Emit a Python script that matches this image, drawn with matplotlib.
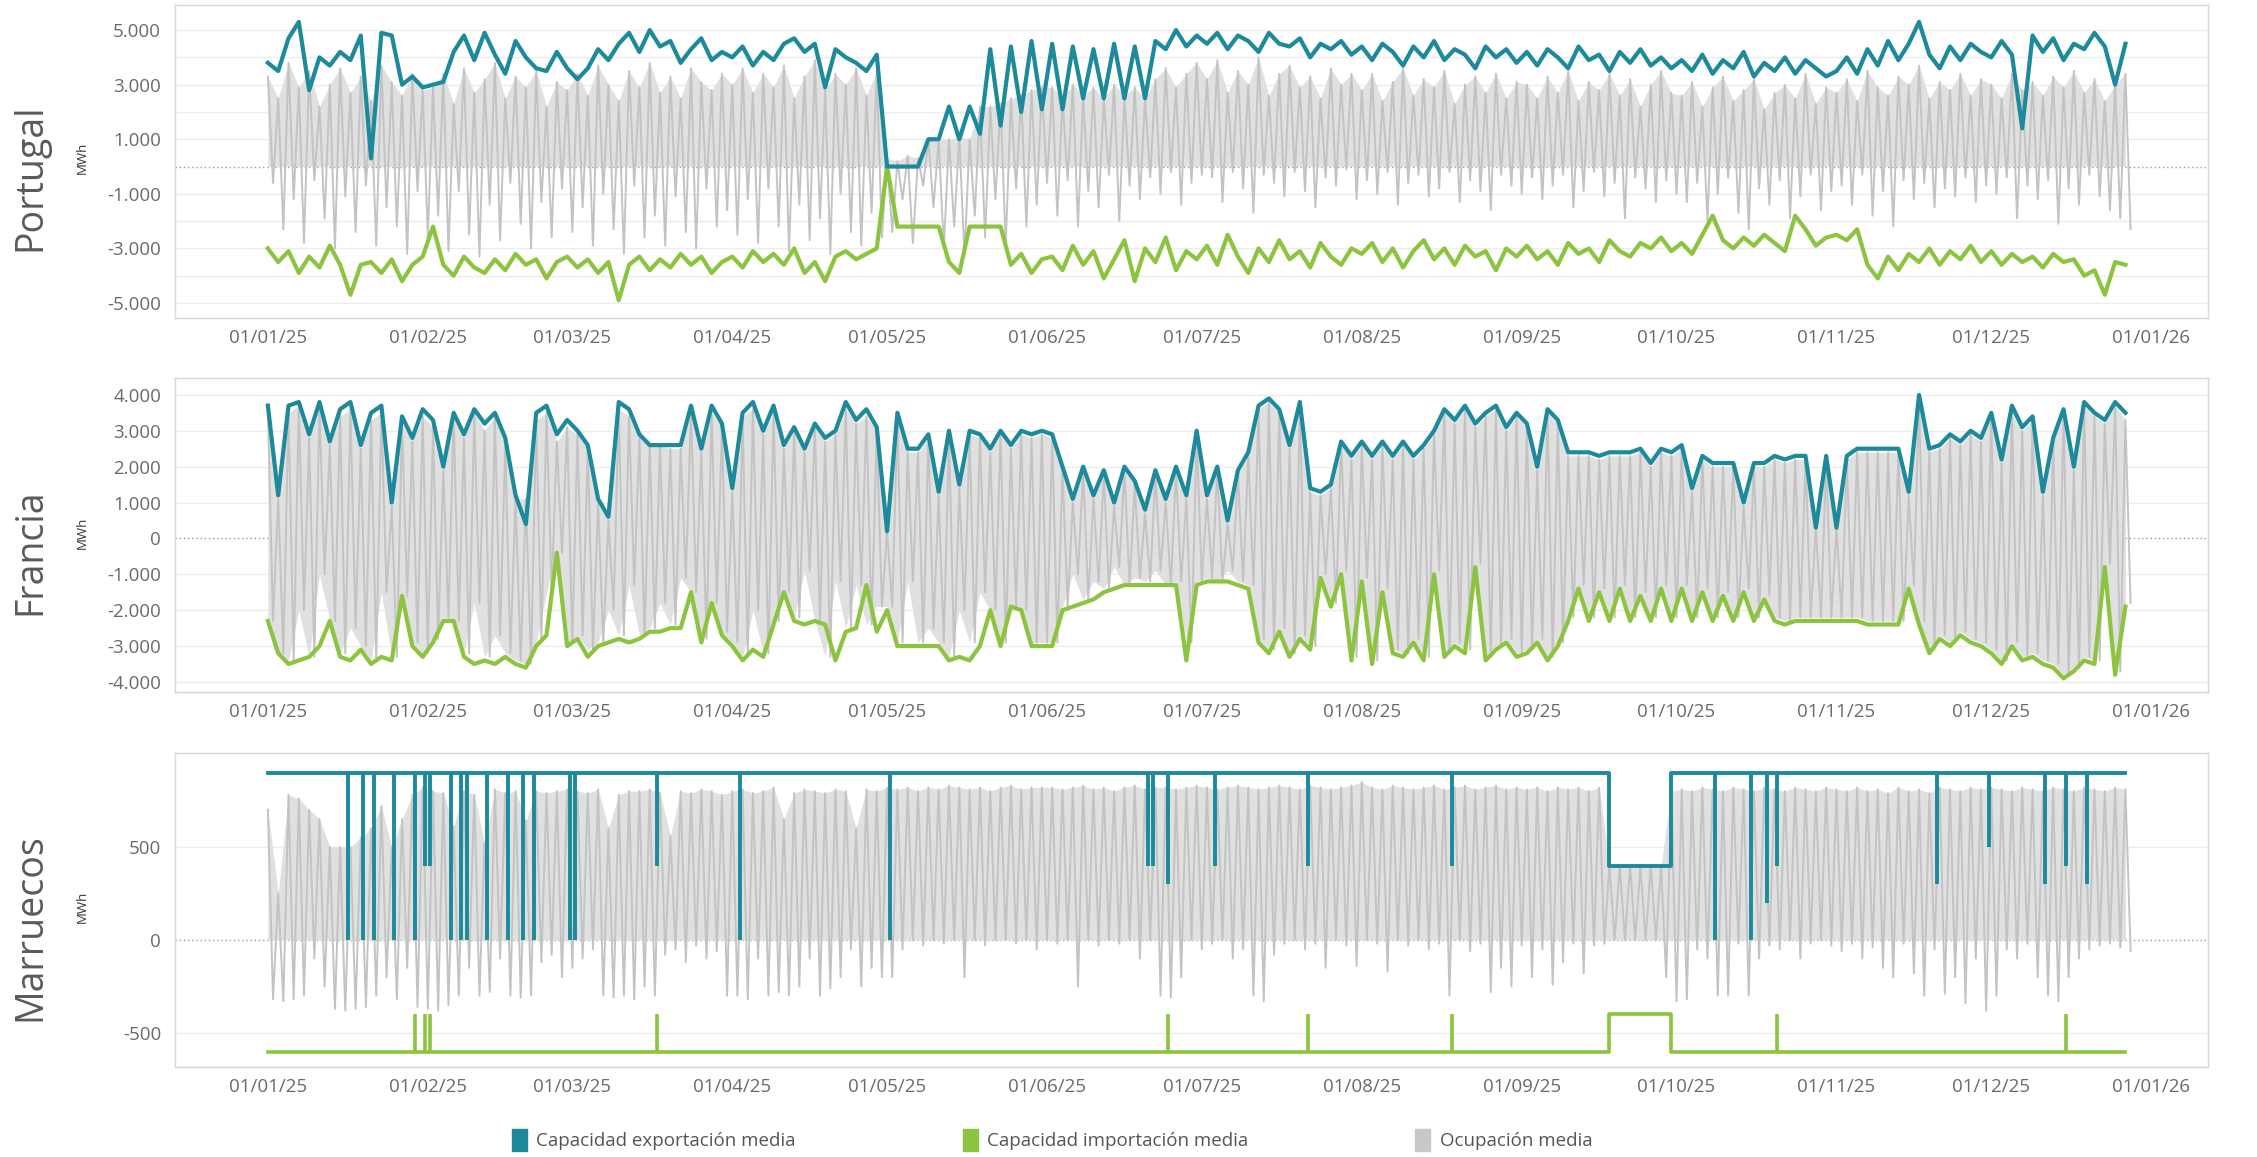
import numpy as np
import matplotlib.pyplot as plt
import matplotlib.dates as mdates
from matplotlib.patches import Patch
from matplotlib.ticker import FixedLocator, FuncFormatter

plt.rcParams['font.family'] = ['Open Sans', 'DejaVu Sans']

TEAL = '#1c8a9b'
GREEN = '#8cc43f'
GREY = '#c3c3c3'
GREY_FILL = '#e0e0e0'

# readings every 2 days from 01/01/25 (one line per month)
START = np.datetime64('2025-01-01T00', 'h')
STEP_H = 48

# ---- Portugal ----
pt_exp = [
    3800, 3500, 4700, 5300, 2800, 4000, 3700, 4200, 3900, 4800, 300, 4900, 4800, 3000, 3300, 2900,
    3000, 3100, 4200, 4800, 3900, 4900, 4100, 3400, 4600, 4000, 3600, 3500, 4200, 3600,
    3200, 3600, 4300, 3900, 4500, 4900, 4200, 5000, 4400, 4600, 3800, 4300, 4700, 3900, 4200,
    4000, 4400, 3700, 4200, 3900, 4500, 4700, 4200, 4500, 2900, 4300, 4000, 3800, 3500, 4100,
    0, 0, 0, 0, 1000, 1000, 2200, 1000, 2200, 1200, 4300, 1500, 4400, 2000, 4600, 2100,
    4500, 2100, 4400, 2500, 4300, 2500, 4500, 2500, 4400, 2500, 4600, 4300, 5000, 4400, 4800,
    4500, 4900, 4300, 4800, 4600, 4200, 4900, 4500, 4400, 4700, 4000, 4500, 4300, 4600, 4100,
    4400, 3900, 4500, 4200, 3700, 4400, 4000, 4600, 3900, 4300, 4100, 3600, 4400, 4000, 4300, 3800,
    4200, 3700, 4300, 4000, 3600, 4400, 3900, 4100, 3500, 4200, 3800, 4300, 3700, 4000, 3600,
    3900, 3500, 4100, 3400, 3900, 3600, 4200, 3300, 3800, 3500, 4000, 3400, 3900, 3600, 3300,
    3500, 4000, 3400, 4300, 3700, 4600, 3900, 4500, 5300, 4100, 3600, 4400, 3900, 4500, 4200,
    4000, 4600, 4100, 1400, 4800, 4200, 4700, 3900, 4500, 4300, 4900, 4400, 3000, 4500,
]
pt_imp = [
    -3000, -3500, -3100, -3900, -3300, -3700, -2900, -3600, -4700, -3600, -3500, -3900, -3400, -4200, -3600, -3300,
    -2200, -3600, -4000, -3300, -3700, -3900, -3400, -3800, -3200, -3600, -3400, -4100, -3500, -3300,
    -3700, -3400, -3900, -3500, -4900, -3600, -3300, -3800, -3400, -3700, -3200, -3600, -3300, -3900, -3500,
    -3300, -3700, -3100, -3500, -3200, -3600, -3000, -3900, -3500, -4200, -3300, -3100, -3400, -3200, -3000,
    0, -2200, -2200, -2200, -2200, -2200, -3500, -3900, -2200, -2200, -2200, -2200, -3600, -3200, -3900, -3400,
    -3300, -3800, -2900, -3600, -3100, -4100, -3400, -2700, -4200, -3000, -3500, -2600, -3800, -3100, -3400,
    -2900, -3600, -2500, -3300, -3900, -3000, -3500, -2700, -3400, -3100, -3700, -2800, -3300, -3600, -3000,
    -3200, -2800, -3500, -3000, -3700, -3100, -2700, -3400, -3000, -3600, -2900, -3300, -3100, -3800, -3000, -3300,
    -2900, -3400, -3100, -3600, -2800, -3200, -3000, -3500, -2700, -3100, -3300, -2800, -3000, -2600, -3100,
    -2800, -3200, -2500, -1800, -2700, -3000, -2600, -2900, -2500, -2800, -3100, -1800, -2300, -2900, -2600,
    -2500, -2700, -2300, -3600, -4100, -3300, -3800, -3200, -3500, -3000, -3600, -3100, -3400, -2900, -3500,
    -3100, -3600, -3200, -3500, -3300, -3700, -3200, -3500, -3400, -4000, -3800, -4700, -3500, -3600,
]
pt_occ_hi = [
    3300, 2500, 3800, 2900, 3500, 2200, 3000, 3600, 2700, 3300, 2400, 3700, 3100, 2600, 3400, 2800,
    2900, 3400, 2300, 3600, 2700, 3200, 3800, 2500, 3300, 2900, 3500, 2200, 3100, 2800,
    3400, 2600, 3700, 3000, 2400, 3500, 2900, 3800, 2700, 3300, 2500, 3600, 3100, 2800, 3400,
    3000, 3600, 2700, 3400, 2900, 3700, 2500, 3300, 3900, 2800, 3400, 3000, 3600, 2600, 3500,
    300, 200, 400, 300, 1000, 1000, 1000, 1100, 1000, 2200, 2200, 2300, 2500, 2600, 2800, 2900,
    2900, 2500, 3000, 2600, 2900, 2500, 3000, 2600, 2900, 2500, 3200, 3600, 2900, 3400, 3800,
    3200, 3900, 2700, 3500, 3000, 4000, 2600, 3400, 3700, 2900, 3300, 2500, 3600, 3000, 3400,
    2800, 3400, 2400, 3100, 3600, 2600, 3200, 2900, 3500, 2300, 3000, 3300, 2700, 3400, 2500, 3100,
    3000, 2500, 3300, 2700, 3500, 2400, 3100, 2800, 3400, 2600, 3200, 2200, 3000, 3500, 2700,
    2600, 3100, 2200, 2900, 3300, 2400, 2800, 3200, 2100, 2700, 3000, 2500, 3400, 2300, 2900,
    2700, 3200, 2400, 3500, 2900, 2600, 3300, 3000, 3700, 2500, 3100, 2800, 3400, 2600, 3200,
    3000, 2500, 3400, 2800, 3100, 2600, 3300, 2900, 3500, 2700, 3200, 2400, 3000, 3400,
]
pt_occ_lo = [
    -600, -2300, -1200, -2800, -500, -1900, -3000, -1100, -2400, -700, -2900, -1500, -2200, -3200, -900, -2600,
    -1800, -3100, -900, -2500, -3300, -1400, -2700, -600, -2100, -3000, -1300, -2600, -800, -2400,
    -1500, -2900, -1000, -2300, -3200, -700, -2600, -1800, -2900, -1100, -2400, -3000, -800, -2200, -1600,
    -2500, -1200, -2800, -800, -2200, -3100, -1400, -2700, -1900, -3200, -1000, -2400, -2900, -1700, -2600,
    -2400, -1200, -2800, -700, -1500, -3000, -2200, -3300, -1800, -2600, -1200, -2900, -800, -2200, -1400, -600,
    -1800, -500, -2200, -900, -1500, -300, -2000, -700, -1200, -400, -1000, -200, -1400, -600, -300,
    -400, -1300, -200, -800, -1700, -300, -600, -1100, -200, -900, -1500, -400, -700, -100, -1200,
    -500, -1000, -200, -1400, -600, -300, -1100, -800, -200, -1300, -500, -900, -1600, -300, -700, -1000,
    -400, -1200, -700, -300, -1500, -900, -200, -1100, -600, -1900, -400, -800, -1300, -500, -1000,
    -1300, -600, -2000, -1000, -400, -1700, -2300, -800, -1400, -500, -1900, -1100, -300, -1600, -900,
    -700, -1400, -300, -1800, -900, -2200, -500, -1200, -600, -1500, -800, -1100, -400, -1300, -700,
    -1000, -400, -1900, -700, -1200, -500, -2100, -800, -1400, -300, -1100, -1600, -1900, -2300,
]

# ---- Francia ----
fr_exp = [
    3700, 1200, 3700, 3800, 2900, 3800, 2700, 3600, 3800, 2600, 3500, 3700, 1000, 3400, 2800, 3600,
    3300, 2000, 3500, 2900, 3600, 3200, 3500, 2800, 1200, 400, 3500, 3700, 2900, 3300,
    3000, 2600, 1100, 600, 3800, 3600, 2900, 2600, 2600, 2600, 2600, 3700, 2500, 3700, 3200,
    1400, 3500, 3800, 3000, 3700, 2600, 3100, 2500, 3200, 2800, 3000, 3800, 3300, 3600, 3100,
    200, 3500, 2500, 2500, 2900, 1300, 3000, 1500, 3000, 2900, 2500, 3000, 2600, 3000, 2900, 3000,
    2900, 2000, 1100, 2000, 1200, 1900, 1000, 2000, 1600, 800, 1900, 1100, 2000, 1200, 3000,
    1200, 2000, 500, 1900, 2400, 3700, 3900, 3600, 2600, 3800, 1400, 1300, 1500, 2700, 2300,
    2700, 2300, 2700, 2300, 2700, 2300, 2600, 3000, 3600, 3300, 3700, 3200, 3500, 3700, 3100, 3500,
    3200, 2000, 3600, 3300, 2400, 2400, 2400, 2300, 2400, 2400, 2400, 2500, 2100, 2500, 2400,
    2600, 1400, 2300, 2100, 2100, 2100, 1000, 2100, 2100, 2300, 2200, 2300, 2300, 300, 2300,
    300, 2300, 2500, 2500, 2500, 2500, 2500, 1300, 4000, 2500, 2600, 2900, 2700, 3000, 2800,
    3500, 2200, 3700, 3100, 3400, 1300, 2800, 3600, 2000, 3800, 3500, 3300, 3800, 3500,
]
fr_imp = [
    -2300, -3200, -3500, -3400, -3300, -3000, -2300, -3300, -3400, -3100, -3500, -3300, -3400, -1600, -3000, -3300,
    -2900, -2300, -2300, -3300, -3500, -3400, -3500, -3300, -3500, -3600, -3000, -2700, -400, -3000,
    -2800, -3300, -3000, -2900, -2800, -2900, -2800, -2600, -2600, -2500, -2500, -1500, -2900, -1800, -2700,
    -3000, -3400, -3100, -3300, -2400, -1500, -2300, -2400, -2300, -2400, -3400, -2600, -2500, -1300, -2600,
    -2000, -3000, -3000, -3000, -3000, -3000, -3400, -3300, -3400, -3000, -2000, -3000, -1900, -2000, -3000, -3000,
    -3000, -2000, -1900, -1800, -1700, -1500, -1400, -1300, -1300, -1300, -1300, -1300, -1300, -3400, -1300,
    -1200, -1200, -1200, -1300, -1400, -2900, -3200, -2600, -3300, -2800, -3100, -1100, -1900, -1000, -3400,
    -1200, -3500, -1500, -3200, -3300, -2900, -3400, -1000, -3300, -3000, -3200, -800, -3400, -3100, -2900, -3300,
    -3200, -2900, -3400, -3000, -2300, -1400, -2300, -1500, -2300, -1400, -2300, -1600, -2300, -1400, -2300,
    -1400, -2300, -1500, -2300, -1600, -2300, -1500, -2300, -1700, -2300, -2400, -2300, -2300, -2300, -2300,
    -2300, -2300, -2300, -2400, -2400, -2400, -2400, -1400, -2400, -3200, -2800, -3000, -2700, -2900, -3000,
    -3200, -3500, -3000, -3400, -3300, -3500, -3600, -3900, -3700, -3400, -3500, -800, -3800, -1900,
]
fr_occ_hi = [
    3600, 1100, 3500, 3700, 2800, 3600, 2600, 3400, 3600, 2500, 3300, 3500, 900, 3200, 2700, 3400,
    3100, 1900, 3400, 2800, 3500, 3000, 3400, 2600, 1100, 1100, 3300, 3500, 2700, 3100,
    2900, 2500, 1000, 500, 3600, 3400, 2800, 2600, 2600, 2500, 2500, 3500, 2400, 3500, 3100,
    1300, 3400, 3600, 2900, 3500, 2500, 3000, 2400, 3100, 2700, 2900, 3600, 3200, 3400, 3000,
    200, 3400, 2400, 2400, 2800, 1200, 2900, 1400, 2900, 2800, 2400, 2900, 2500, 2900, 2800, 2900,
    2800, 1900, 1000, 1900, 1100, 1800, 900, 1900, 1500, 700, 1800, 1000, 1900, 1100, 2900,
    1100, 1900, 400, 1800, 2300, 3600, 3800, 3500, 2500, 3700, 1300, 1200, 1400, 2600, 2200,
    2600, 2200, 2600, 2200, 2600, 2200, 2500, 2900, 3500, 3200, 3600, 3100, 3400, 3600, 3000, 3400,
    3100, 1900, 3500, 3200, 2300, 2300, 2300, 2200, 2300, 2300, 2300, 2400, 2000, 2400, 2300,
    2500, 1300, 2200, 2000, 2000, 2000, 900, 2000, 2000, 2200, 2100, 2200, 2200, 300, 2200,
    300, 2200, 2400, 2400, 2400, 2400, 2400, 1200, 3900, 2400, 2500, 2800, 2600, 2900, 2700,
    3400, 2100, 3600, 3000, 3300, 1200, 2700, 3500, 1900, 3700, 3400, 3200, 3700, 3300,
]
fr_occ_lo = [
    -2300, -3200, -3400, -2000, -3300, -1000, -2300, -3200, -2500, -3000, -3400, -1500, -3300, -1600, -2900, -3200,
    -2800, -2200, -2300, -3200, -1800, -3300, -2700, -3200, -3400, -3500, -2900, -1500, -400, -2900,
    -2700, -3100, -2900, -2000, -2700, -1300, -2700, -2500, -1800, -2400, -1100, -1500, -2800, -1800, -2600,
    -2900, -3300, -2000, -3200, -2300, -1500, -2200, -900, -2300, -3300, -1200, -2500, -1300, -2400, -1900,
    -1900, -2900, -1200, -2900, -2500, -2900, -3300, -2000, -2900, -1500, -2000, -2900, -1900, -2000, -2900, -2900,
    -2900, -1900, -1000, -1700, -1200, -1400, -800, -1300, -1100, -1200, -900, -1300, -1200, -2900, -1200,
    -1100, -1200, -900, -1200, -1300, -2800, -3100, -2500, -3200, -2700, -3000, -1000, -1800, -900, -3300,
    -1100, -3400, -1400, -3100, -3200, -2800, -3300, -900, -3200, -2900, -3100, -700, -3300, -3000, -2800, -3200,
    -3100, -2800, -3300, -2900, -2200, -1300, -2200, -1400, -2200, -1300, -2200, -1500, -2200, -1300, -2200,
    -1300, -2200, -1400, -2200, -1500, -2200, -1400, -2200, -1600, -2200, -2300, -2200, -2200, -2200, -2200,
    -2200, -2200, -2200, -2300, -2300, -2300, -2300, -1300, -2300, -3100, -2700, -2900, -2600, -2800, -2900,
    -3100, -3400, -2900, -3300, -3200, -3400, -3500, -3800, -3600, -3300, -3400, -700, -3700, -1800,
]

# ---- Marruecos ----
ma_occ_hi = [
    700, 250, 780, 760, 700, 650, 500, 500, 500, 550, 600, 720, 500, 650, 780, 820,
    800, 790, 610, 800, 780, 520, 810, 790, 800, 640, 800, 790, 800, 810,
    800, 790, 810, 600, 780, 800, 800, 810, 790, 560, 800, 790, 810, 800, 780,
    800, 810, 790, 800, 820, 650, 790, 810, 800, 790, 810, 800, 600, 810, 800,
    820, 810, 820, 800, 820, 810, 830, 820, 810, 820, 800, 820, 830, 810, 820, 820,
    820, 810, 820, 830, 810, 820, 800, 820, 830, 810, 820, 820, 810, 820, 830,
    820, 810, 820, 830, 820, 810, 820, 830, 820, 810, 830, 820, 810, 820, 830,
    850, 820, 810, 830, 820, 810, 820, 830, 810, 820, 830, 810, 820, 830, 810, 820,
    810, 820, 800, 820, 810, 820, 800, 820, 400, 400, 400, 400, 400, 400, 800,
    810, 800, 820, 810, 800, 820, 810, 800, 820, 810, 800, 820, 810, 800, 820,
    810, 800, 820, 800, 810, 790, 820, 800, 810, 790, 820, 810, 800, 820, 810,
    820, 810, 800, 820, 810, 800, 820, 810, 800, 820, 810, 800, 820, 810,
]
ma_occ_lo = [
    -320, -330, -320, -300, -100, -250, -370, -380, -370, -360, -300, -200, -320, -150, -360, -370,
    -380, -350, -300, -150, -300, -280, -100, -300, -310, -300, -120, -80, -200, -150,
    -100, -50, -300, -310, -300, -320, -250, -300, -80, -50, -120, -30, -100, -60, -300,
    -300, -320, -100, -300, -280, -300, -250, -100, -300, -260, -200, -50, -250, -150, -200,
    -200, -50, 0, -30, 0, -20, 0, -200, 0, -30, 0, 0, -20, 0, -50, 0,
    -20, 0, -250, 0, -30, 0, -20, 0, -100, 0, -300, -310, -200, 0, -50,
    -20, 0, -100, -50, -300, -330, -80, -20, 0, -50, -20, -150, 0, -30, -140,
    0, -20, -170, 0, -30, 0, -50, -20, -300, 0, -60, -20, -280, -150, -250, -30,
    -200, -50, -240, -120, -20, -180, -30, -20, 0, 0, 0, 0, 0, -200, -330,
    -320, -50, -100, -300, -300, -20, -300, -100, -30, -50, 0, -100, -20, 0, -30,
    -60, -20, -100, -40, -150, -200, -20, -180, -300, -50, -290, -200, -340, -100, -380,
    -300, -50, -100, -20, -200, -300, -330, -200, -100, -50, -30, -20, -40, -60,
]
# daily capacities: usual level plus the days where it changed
ma_days = 361
ma_exp_base = 900
ma_exp_dip_days = [15, 18, 20, 24, 28, 30, 31, 35, 37, 38, 42, 46, 49, 51, 58, 59, 75, 91, 120,
                   170, 171, 174, 183, 201, 229, 280, 287, 290, 292, 323, 333, 344, 348, 352]
ma_exp_dip_vals = [0, 0, 0, 0, 0, 400, 400, 0, 0, 0, 0, 0, 0, 0, 0, 0, 400, 0, 0,
                   400, 400, 300, 400, 400, 400, 0, 0, 200, 400, 300, 500, 300, 400, 300]
ma_imp_base = -600
ma_imp_spike_days = [28, 30, 31, 75, 174, 201, 229, 292, 348]
ma_imp_spike_val = -400
ma_cut_start, ma_cut_end = 260, 272   # reduced capacity period
ma_cut_exp, ma_cut_imp = 400, -400

legend_labels = ['Capacidad exportación media', 'Capacidad importación media', 'Ocupación media']


def es_fmt(v, pos):
    s = f"{abs(int(round(v))):,}".replace(",", ".")
    return ("-" if v < 0 else "") + s


def zigzag(t, hi, lo):
    x = np.empty(2 * len(t), dtype='datetime64[h]')
    x[0::2] = t
    x[1::2] = t + np.timedelta64(24, 'h')
    y = np.empty(2 * len(t))
    y[0::2] = hi
    y[1::2] = lo
    return x, y


def draw_occupation(ax, t, hi, lo, fill_from_zero=False):
    base = np.zeros(len(lo)) if fill_from_zero else np.minimum(lo, 0)
    ax.fill_between(t, base, hi, color=GREY_FILL, lw=0, zorder=1.5)
    gx, gy = zigzag(t, hi, lo)
    ax.plot(gx, gy, color=GREY, lw=1.4, zorder=2)


def style_axis(ax, ylim, labels, grid):
    ax.set_ylim(*ylim)
    ax.set_xlim(START - np.timedelta64(18 * 24, 'h'), START + np.timedelta64(376 * 24, 'h'))
    ax.yaxis.set_major_locator(FixedLocator(labels))
    ax.yaxis.set_major_formatter(FuncFormatter(es_fmt))
    for g in grid:
        if g != 0:
            ax.axhline(g, color='#ececec', lw=1, zorder=0)
    ax.axhline(0, color='#9a9a9a', lw=1, ls=(0, (1, 2)), zorder=1)
    ax.xaxis.set_major_locator(mdates.MonthLocator())
    ax.xaxis.set_major_formatter(mdates.DateFormatter('%d/%m/%y'))
    ax.tick_params(length=0, labelsize=13.5, labelcolor='#6a6a6a')
    ax.tick_params(axis='y', pad=10)
    ax.tick_params(axis='x', pad=8)
    for s in ax.spines.values():
        s.set_color('#d6d6d6')
        s.set_linewidth(1)


fig = plt.figure(figsize=(22.57, 11.57), dpi=100)
W, H = 2257, 1157
ax_pt = fig.add_axes([175 / W, 1 - 318 / H, 2033 / W, 313 / H])
ax_fr = fig.add_axes([175 / W, 1 - 692 / H, 2033 / W, 314 / H])
ax_ma = fig.add_axes([175 / W, 1 - 1067 / H, 2033 / W, 314 / H])

n = len(pt_exp)
t = START + np.arange(n) * np.timedelta64(STEP_H, 'h')

for ax, exp, imp, hi, lo, from_zero in [(ax_pt, pt_exp, pt_imp, pt_occ_hi, pt_occ_lo, True),
                                        (ax_fr, fr_exp, fr_imp, fr_occ_hi, fr_occ_lo, False)]:
    draw_occupation(ax, t, hi, lo, fill_from_zero=from_zero)
    ax.plot(t, imp, color=GREEN, lw=3, zorder=3)
    ax.plot(t, exp, color=TEAL, lw=3, zorder=4)

style_axis(ax_pt, (-5550, 5920), [5000, 3000, 1000, -1000, -3000, -5000], range(-5000, 6000, 1000))
style_axis(ax_fr, (-4280, 4470), range(-4000, 5000, 1000), range(-4000, 5000, 1000))

# Marruecos: flat capacities, drops drawn as thin vertical strokes
draw_occupation(ax_ma, t, ma_occ_hi, ma_occ_lo, fill_from_zero=True)
days = START + np.arange(ma_days) * np.timedelta64(24, 'h')
ma_exp = np.full(ma_days, ma_exp_base, dtype=float)
ma_exp[ma_cut_start:ma_cut_end] = ma_cut_exp
ma_imp = np.full(ma_days, ma_imp_base, dtype=float)
ma_imp[ma_cut_start:ma_cut_end] = ma_cut_imp
dip_x = START + np.array(ma_exp_dip_days) * np.timedelta64(24, 'h') + np.timedelta64(12, 'h')
spike_x = START + np.array(ma_imp_spike_days) * np.timedelta64(24, 'h') + np.timedelta64(12, 'h')
ax_ma.plot(days, ma_imp, color=GREEN, lw=2.6, drawstyle='steps-post', zorder=3)
ax_ma.vlines(spike_x, ma_imp_base, ma_imp_spike_val, color=GREEN, lw=2.6, zorder=3)
ax_ma.plot(days, ma_exp, color=TEAL, lw=2.8, drawstyle='steps-post', zorder=4)
ax_ma.vlines(dip_x, ma_exp_dip_vals, ma_exp_base, color=TEAL, lw=2.8, zorder=4)
style_axis(ax_ma, (-683, 1005), [-500, 0, 500], [-500, 500])

# country titles and units
for name, yc, ym in [('Portugal', 177, 158), ('Francia', 552, 533), ('Marruecos', 927, 907)]:
    fig.text(30 / W, 1 - yc / H, name, rotation=90, ha='center', va='center',
             fontsize=27, color='#5a5a5a')
    fig.text(82 / W, 1 - ym / H, 'MWh', rotation=90, ha='center', va='center',
             fontsize=9.5, color='#333333')

handles = [Patch(color=TEAL), Patch(color=GREEN), Patch(color='#c8c8c8')]
fig.legend(handles, legend_labels, loc='center', bbox_to_anchor=(1052 / W, 1 - 1140 / H),
           ncol=3, frameon=False, fontsize=13.5, handlelength=0.8, handleheight=1.5,
           handletextpad=0.5, columnspacing=8.9, labelcolor='#555555')

fig.savefig('out.png', dpi=100)
